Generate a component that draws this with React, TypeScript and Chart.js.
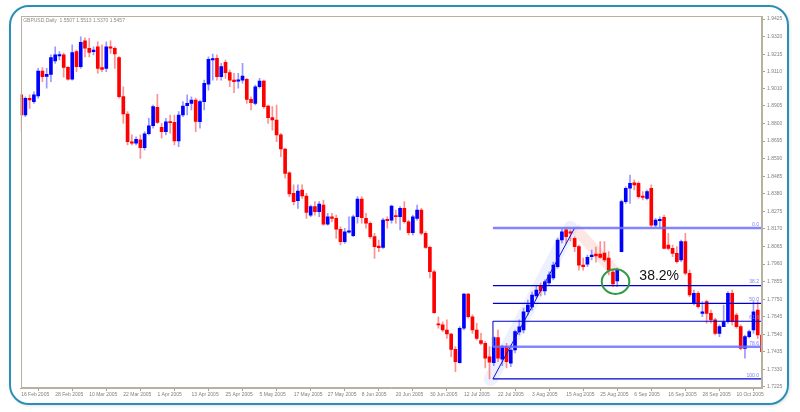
import React, { useEffect, useRef } from 'react';
import { Chart, registerables } from 'chart.js';

Chart.register(...registerables);

const TITLE = 'GBPUSD,Daily  1.5507 1.5513 1.5370 1.5457';

const TICK_DATES = ['16 Feb 2005', '28 Feb 2005', '10 Mar 2005', '22 Mar 2005', '1 Apr 2005', '13 Apr 2005', '25 Apr 2005', '5 May 2005', '17 May 2005', '27 May 2005', '8 Jun 2005', '20 Jun 2005', '30 Jun 2005', '12 Jul 2005', '22 Jul 2005', '3 Aug 2005', '15 Aug 2005', '25 Aug 2005', '6 Sep 2005', '16 Sep 2005', '28 Sep 2005', '10 Oct 2005'];
const BARS_PER_TICK = 8;

const Y_TICKS = ['1.9425', '1.9320', '1.9215', '1.9110', '1.9010', '1.8905', '1.8800', '1.8695', '1.8590', '1.8485', '1.8380', '1.8275', '1.8170', '1.8065', '1.7960', '1.7855', '1.7750', '1.7645', '1.7540', '1.7435', '1.7330', '1.7225'];
const Y_MIN = 1.7219;
const Y_MAX = 1.9443;

const OPEN = [1.8971, 1.8851, 1.8951, 1.8931, 1.8965, 1.9114, 1.9082, 1.9094, 1.9174, 1.9205, 1.9211, 1.9136, 1.9066, 1.9230, 1.9140, 1.9294, 1.9250, 1.9230, 1.9259, 1.9134, 1.9130, 1.9259, 1.9250, 1.9194, 1.8961, 1.8857, 1.8691, 1.8682, 1.8702, 1.8656, 1.8739, 1.8787, 1.8897, 1.8778, 1.8751, 1.8811, 1.8807, 1.8696, 1.8851, 1.8907, 1.8921, 1.8941, 1.8811, 1.8931, 1.9035, 1.9180, 1.9190, 1.9080, 1.9166, 1.9104, 1.9060, 1.9054, 1.9060, 1.9064, 1.8945, 1.8921, 1.9020, 1.9054, 1.8905, 1.8835, 1.8821, 1.8732, 1.8648, 1.8506, 1.8383, 1.8339, 1.8403, 1.8367, 1.8253, 1.8303, 1.8273, 1.8313, 1.8198, 1.8243, 1.8233, 1.8168, 1.8094, 1.8150, 1.8130, 1.8243, 1.8349, 1.8233, 1.8204, 1.8124, 1.8068, 1.8060, 1.8227, 1.8223, 1.8247, 1.8243, 1.8293, 1.8213, 1.8147, 1.8233, 1.8283, 1.8144, 1.8060, 1.7914, 1.7602, 1.7596, 1.7566, 1.7542, 1.7450, 1.7370, 1.7576, 1.7781, 1.7645, 1.7566, 1.7502, 1.7486, 1.7406, 1.7370, 1.7520, 1.7391, 1.7466, 1.7367, 1.7446, 1.7554, 1.7566, 1.7675, 1.7703, 1.7769, 1.7829, 1.7799, 1.7847, 1.7877, 1.7944, 1.8104, 1.8164, 1.8153, 1.8114, 1.8064, 1.7954, 1.7960, 1.8004, 1.8020, 1.8020, 1.8026, 1.7996, 1.7912, 1.7859, 1.8034, 1.8333, 1.8413, 1.8446, 1.8443, 1.8367, 1.8353, 1.8413, 1.8193, 1.8219, 1.8240, 1.8074, 1.8054, 1.8024, 1.7984, 1.8094, 1.7905, 1.7725, 1.7785, 1.7665, 1.7735, 1.7665, 1.7626, 1.7546, 1.7586, 1.7615, 1.7785, 1.7655, 1.7586, 1.7456, 1.7526, 1.7566, 1.7685, 1.7536];
const HIGH = [1.8977, 1.8960, 1.8971, 1.8990, 1.9130, 1.9134, 1.9130, 1.9211, 1.9259, 1.9230, 1.9221, 1.9140, 1.9270, 1.9240, 1.9319, 1.9313, 1.9310, 1.9259, 1.9289, 1.9270, 1.9289, 1.9294, 1.9259, 1.9200, 1.9020, 1.8871, 1.8732, 1.8721, 1.8732, 1.8751, 1.8831, 1.8911, 1.8975, 1.8801, 1.8831, 1.8851, 1.8851, 1.8871, 1.8931, 1.8971, 1.8960, 1.8953, 1.8941, 1.9060, 1.9199, 1.9216, 1.9211, 1.9160, 1.9180, 1.9120, 1.9100, 1.9100, 1.9160, 1.9070, 1.8960, 1.9030, 1.9070, 1.9060, 1.8911, 1.8901, 1.8911, 1.8742, 1.8652, 1.8512, 1.8433, 1.8433, 1.8433, 1.8383, 1.8313, 1.8333, 1.8333, 1.8343, 1.8263, 1.8263, 1.8253, 1.8183, 1.8174, 1.8243, 1.8253, 1.8363, 1.8363, 1.8263, 1.8213, 1.8144, 1.8104, 1.8233, 1.8243, 1.8313, 1.8283, 1.8303, 1.8333, 1.8223, 1.8253, 1.8313, 1.8293, 1.8154, 1.8068, 1.7924, 1.7645, 1.7615, 1.7626, 1.7546, 1.7466, 1.7586, 1.7785, 1.7785, 1.7656, 1.7606, 1.7546, 1.7496, 1.7466, 1.7526, 1.7566, 1.7476, 1.7486, 1.7476, 1.7566, 1.7626, 1.7697, 1.7745, 1.7793, 1.7829, 1.7847, 1.7865, 1.7913, 1.7972, 1.8116, 1.8170, 1.8176, 1.8164, 1.8124, 1.8074, 1.7996, 1.8014, 1.8044, 1.8062, 1.8094, 1.8094, 1.8034, 1.7924, 1.7936, 1.8343, 1.8422, 1.8492, 1.8463, 1.8452, 1.8393, 1.8403, 1.8433, 1.8233, 1.8243, 1.8253, 1.8144, 1.8074, 1.8064, 1.8104, 1.8144, 1.7924, 1.7805, 1.7795, 1.7735, 1.7745, 1.7685, 1.7636, 1.7596, 1.7715, 1.7795, 1.7805, 1.7666, 1.7596, 1.7536, 1.7566, 1.7735, 1.7735, 1.7548];
const LOW = [1.8751, 1.8841, 1.8891, 1.8921, 1.8951, 1.9050, 1.9011, 1.9050, 1.9160, 1.9180, 1.9077, 1.9060, 1.9060, 1.9110, 1.9130, 1.9199, 1.9199, 1.9210, 1.9100, 1.9110, 1.9110, 1.9220, 1.9130, 1.8951, 1.8801, 1.8672, 1.8672, 1.8672, 1.8592, 1.8642, 1.8732, 1.8772, 1.8801, 1.8712, 1.8732, 1.8742, 1.8672, 1.8662, 1.8841, 1.8851, 1.8881, 1.8751, 1.8772, 1.8881, 1.9000, 1.9060, 1.9060, 1.9060, 1.9070, 1.9020, 1.8984, 1.9011, 1.9041, 1.8921, 1.8881, 1.8911, 1.9011, 1.8891, 1.8801, 1.8761, 1.8691, 1.8602, 1.8473, 1.8363, 1.8313, 1.8293, 1.8353, 1.8233, 1.8243, 1.8253, 1.8243, 1.8193, 1.8193, 1.8213, 1.8114, 1.8074, 1.8084, 1.8144, 1.8124, 1.8204, 1.8204, 1.8174, 1.8114, 1.7994, 1.8034, 1.8054, 1.8174, 1.8204, 1.8204, 1.8164, 1.8204, 1.8134, 1.8134, 1.8223, 1.8134, 1.8054, 1.7877, 1.7665, 1.7576, 1.7556, 1.7516, 1.7406, 1.7317, 1.7367, 1.7566, 1.7636, 1.7546, 1.7506, 1.7476, 1.7339, 1.7273, 1.7353, 1.7376, 1.7353, 1.7339, 1.7347, 1.7428, 1.7536, 1.7548, 1.7656, 1.7685, 1.7757, 1.7769, 1.7775, 1.7835, 1.7865, 1.7936, 1.8086, 1.8084, 1.8098, 1.8034, 1.7924, 1.7924, 1.7944, 1.7984, 1.7972, 1.7994, 1.7974, 1.7895, 1.7825, 1.7825, 1.8032, 1.8323, 1.8323, 1.8403, 1.8353, 1.8343, 1.8343, 1.8183, 1.8183, 1.8183, 1.8050, 1.8044, 1.8004, 1.7965, 1.7974, 1.7895, 1.7765, 1.7715, 1.7696, 1.7645, 1.7606, 1.7606, 1.7536, 1.7526, 1.7586, 1.7606, 1.7596, 1.7576, 1.7446, 1.7397, 1.7518, 1.7546, 1.7516, 1.7416];
const CLOSE = [1.8851, 1.8951, 1.8941, 1.8971, 1.9114, 1.9080, 1.9094, 1.9194, 1.9211, 1.9211, 1.9136, 1.9066, 1.9224, 1.9140, 1.9286, 1.9250, 1.9226, 1.9240, 1.9130, 1.9124, 1.9258, 1.9250, 1.9216, 1.8961, 1.8857, 1.8691, 1.8682, 1.8706, 1.8656, 1.8739, 1.8787, 1.8901, 1.8807, 1.8751, 1.8811, 1.8805, 1.8696, 1.8851, 1.8905, 1.8921, 1.8941, 1.8812, 1.8931, 1.9041, 1.9184, 1.9188, 1.9080, 1.9140, 1.9104, 1.9060, 1.9050, 1.9060, 1.9084, 1.8945, 1.8925, 1.9020, 1.9054, 1.8901, 1.8835, 1.8821, 1.8732, 1.8648, 1.8502, 1.8379, 1.8333, 1.8397, 1.8367, 1.8269, 1.8303, 1.8273, 1.8319, 1.8198, 1.8243, 1.8233, 1.8168, 1.8094, 1.8153, 1.8159, 1.8243, 1.8349, 1.8237, 1.8204, 1.8124, 1.8064, 1.8058, 1.8223, 1.8219, 1.8307, 1.8243, 1.8293, 1.8213, 1.8147, 1.8243, 1.8283, 1.8144, 1.8060, 1.7914, 1.7669, 1.7596, 1.7566, 1.7542, 1.7450, 1.7376, 1.7576, 1.7781, 1.7645, 1.7566, 1.7516, 1.7486, 1.7397, 1.7373, 1.7520, 1.7397, 1.7466, 1.7376, 1.7446, 1.7556, 1.7584, 1.7675, 1.7715, 1.7775, 1.7805, 1.7799, 1.7854, 1.7895, 1.7954, 1.8104, 1.8153, 1.8124, 1.8144, 1.8064, 1.7954, 1.7944, 1.8000, 1.8014, 1.8008, 1.8000, 1.7984, 1.7924, 1.7841, 1.7924, 1.8333, 1.8413, 1.8443, 1.8433, 1.8363, 1.8359, 1.8393, 1.8193, 1.8223, 1.8227, 1.8054, 1.8054, 1.8024, 1.7974, 1.8094, 1.7905, 1.7775, 1.7785, 1.7705, 1.7675, 1.7665, 1.7626, 1.7546, 1.7586, 1.7615, 1.7785, 1.7615, 1.7586, 1.7456, 1.7526, 1.7556, 1.7675, 1.7536, 1.7436];

const FIB_LEVELS = [0, 38.2, 50, 61.8, 78.6, 100];
const FIB_LABELS = ['0.0', '38.2', '50.0', '61.8', '78.6', '100.0'];
const FIB_HIGH = 1.8176;
const FIB_LOW = 1.7273;
const FIB_START_BAR = 110.8;
const FIB_END_BAR = 174;
const TREND_END_BAR = 130.0;
const PULLBACK_END_BAR = 139.5;
const PULLBACK_END_PRICE = 1.7912;

const CIRCLE_BAR = 139.6;
const CIRCLE_PRICE = 1.7855;
const NOTE_TEXT = '38.2%';
const NOTE_BAR = 145.2;
const NOTE_PRICE = 1.7886;

const FONT = '"Liberation Sans", Arial, sans-serif';

const fibPrice = (lvl: number) => FIB_HIGH - (FIB_HIGH - FIB_LOW) * lvl / 100;

export default function App() {
  const ref = useRef<HTMLCanvasElement>(null);

  useEffect(() => {
    document.body.style.margin = '0';
    const canvas = ref.current;
    if (!canvas) return;

    const idx = OPEN.map((_, i) => i);
    const up = idx.map(i => CLOSE[i] >= OPEN[i]);

    const wicks = idx.map(i => ({ x: i, y: [LOW[i], HIGH[i]] }));
    const bodies = idx.map(i => ({ x: i, y: [Math.min(OPEN[i], CLOSE[i]), Math.max(OPEN[i], CLOSE[i])] }));

    const fibSets = FIB_LEVELS.map((lvl) => {
      const light = lvl === 0 || lvl === 78.6;
      return {
        type: 'line' as const,
        data: [{ x: FIB_START_BAR, y: fibPrice(lvl) }, { x: FIB_END_BAR, y: fibPrice(lvl) }],
        borderColor: light ? 'rgba(110,110,255,0.85)' : '#0000d0',
        borderWidth: light ? 2.5 : 1.2,
        pointRadius: 0,
        order: 0,
      };
    });

    const annot = {
      id: 'annot',
      afterDraw(chart: any) {
        const { ctx, chartArea: a, scales } = chart;
        const xs = scales.x;
        const ys = scales.y;
        ctx.save();
        ctx.strokeStyle = '#b9b19f';
        ctx.lineWidth = 1;
        ctx.strokeRect(Math.round(a.left) + 0.5, Math.round(a.top) + 0.5, Math.round(a.right - a.left) - 1, Math.round(a.bottom - a.top) - 1);

        ctx.fillStyle = '#8a8a8a';
        ctx.font = `5px ${FONT}`;
        ctx.textBaseline = 'middle';
        ctx.textAlign = 'left';
        ctx.fillText(TITLE, a.left + 2.5, a.top + 4.5);

        ctx.fillStyle = '#7b7bff';
        ctx.textAlign = 'right';
        ctx.textBaseline = 'bottom';
        FIB_LEVELS.forEach((lvl, k) => {
          const py = ys.getPixelForValue(fibPrice(lvl));
          ctx.fillText(FIB_LABELS[k], a.right - 3, py - 1);
        });

        const cx = xs.getPixelForValue(CIRCLE_BAR);
        const cy = ys.getPixelForValue(CIRCLE_PRICE);
        ctx.strokeStyle = '#2f9a45';
        ctx.lineWidth = 2;
        ctx.beginPath();
        ctx.ellipse(cx, cy, 13.8, 12.3, 0, 0, Math.PI * 2);
        ctx.stroke();

        ctx.fillStyle = '#111';
        ctx.font = `14px ${FONT}`;
        ctx.textAlign = 'left';
        ctx.textBaseline = 'middle';
        ctx.fillText(NOTE_TEXT, xs.getPixelForValue(NOTE_BAR), ys.getPixelForValue(NOTE_PRICE));
        ctx.restore();
      },
    };

    const chart = new Chart(canvas, {
      type: 'bar',
      data: {
        datasets: [
          {
            type: 'line',
            data: [{ x: FIB_START_BAR - 0.5, y: FIB_LOW }, { x: TREND_END_BAR - 1, y: FIB_HIGH }],
            borderColor: 'rgba(190,200,255,0.28)',
            borderWidth: 14,
            borderCapStyle: 'round',
            pointRadius: 0,
            order: 10,
          } as any,
          {
            type: 'line',
            data: [{ x: TREND_END_BAR, y: FIB_HIGH }, { x: PULLBACK_END_BAR, y: PULLBACK_END_PRICE }],
            borderColor: 'rgba(250,180,170,0.32)',
            borderWidth: 11,
            borderCapStyle: 'butt',
            pointRadius: 0,
            order: 10,
          } as any,
          {
            type: 'bar',
            data: wicks,
            backgroundColor: idx.map(i => (up[i] ? 'rgba(70,70,255,0.55)' : 'rgba(255,70,70,0.6)')),
            barThickness: 1,
            grouped: false,
            order: 3,
          } as any,
          {
            type: 'bar',
            data: bodies,
            backgroundColor: idx.map(i => (up[i] ? '#0000ff' : '#ff0000')),
            barThickness: 3,
            minBarLength: 1.2,
            grouped: false,
            order: 2,
          } as any,
          ...(fibSets as any[]),
          {
            type: 'line',
            data: [{ x: FIB_START_BAR, y: FIB_LOW }, { x: TREND_END_BAR, y: FIB_HIGH }],
            borderColor: '#1010d0',
            borderWidth: 1,
            pointRadius: 0,
            order: 0,
          } as any,
          {
            type: 'line',
            data: [{ x: FIB_START_BAR, y: fibPrice(61.8) }, { x: FIB_START_BAR, y: fibPrice(78.6) }],
            borderColor: '#6a6ad8',
            borderWidth: 1,
            pointRadius: 0,
            order: 0,
          } as any,
        ],
      },
      options: {
        animation: false,
        responsive: false,
        devicePixelRatio: 1,
        layout: { padding: { left: 20.7, top: 16, right: 0, bottom: 0 } },
        plugins: { legend: { display: false }, tooltip: { enabled: false } },
        scales: {
          x: {
            type: 'linear',
            min: -0.1,
            max: FIB_END_BAR,
            offset: false,
            afterBuildTicks: (s: any) => {
              s.ticks = TICK_DATES.map((_, k) => ({ value: k * BARS_PER_TICK }));
            },
            afterFit: (s: any) => {
              s.height = 24;
            },
            ticks: {
              callback: (_v: any, i: number) => TICK_DATES[i],
              align: 'start',
              autoSkip: false,
              maxRotation: 0,
              padding: 1,
              color: '#808080',
              font: { size: 5, family: FONT },
            },
            grid: { drawOnChartArea: false, tickLength: 3, color: '#a8a090' },
            border: { display: true, color: '#b9b19f' },
          } as any,
          y: {
            type: 'linear',
            position: 'right',
            min: Y_MIN,
            max: Y_MAX,
            afterBuildTicks: (s: any) => {
              s.ticks = Y_TICKS.map(t => ({ value: parseFloat(t) })).sort((p, q) => p.value - q.value);
            },
            afterFit: (s: any) => {
              s.width = 38;
            },
            ticks: {
              callback: (v: any) => Number(v).toFixed(4),
              padding: 2,
              color: '#808080',
              font: { size: 5, family: FONT },
            },
            grid: { drawOnChartArea: false, tickLength: 3, color: '#a8a090' },
            border: { display: true, color: '#b9b19f' },
          } as any,
        },
      },
      plugins: [annot],
    } as any);

    return () => chart.destroy();
  }, []);

  return (
    <div style={{ position: 'relative', width: 800, height: 412, background: '#fff', overflow: 'hidden' }}>
      <div
        style={{
          position: 'absolute',
          left: 9,
          top: 5,
          width: 776,
          height: 396,
          border: '2.5px solid #2a8fb6',
          borderRadius: 20,
          boxShadow: '1px 1px 3px rgba(0,0,0,0.12)',
        }}
      />
      <canvas ref={ref} width={800} height={412} style={{ position: 'absolute', left: 0, top: 0 }} />
    </div>
  );
}
